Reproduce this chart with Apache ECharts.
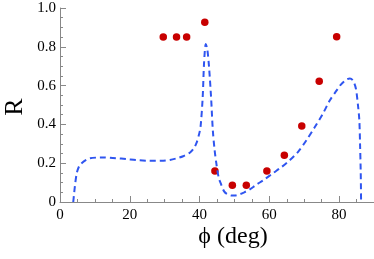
<!DOCTYPE html>
<html>
<head>
<meta charset="utf-8">
<script src="https://cdn.jsdelivr.net/npm/echarts@6/dist/echarts.min.js"></script>
<style>html,body{margin:0;padding:0;background:#fff}#c{width:374px;height:259px}</style>
</head>
<body>
<div id="c"></div>
<script>
// Measured points (red dots)
const dotPhi = [29.6, 33.4, 36.3, 41.5, 44.4, 49.4, 53.4, 59.3, 64.3, 69.3, 74.3, 79.3];
const dotR   = [0.851, 0.851, 0.851, 0.926, 0.160, 0.086, 0.086, 0.160, 0.241, 0.392, 0.622, 0.852];
// Theory curve (blue dashed)
const curvePhi = [3.8, 4.2, 4.8, 5.5, 6.2, 7.5, 8.6, 10.5, 12.4, 16, 19.1, 22, 24.8, 27.5, 29.6, 31.5, 33.4, 35.3, 37.2, 38.3, 39.1, 39.8, 40.3, 40.9, 41.3, 41.8, 42.2, 42.7, 43.3, 43.8, 44.3, 44.8, 45.5, 46.2, 47.0, 47.8, 49.0, 50.0, 51.5, 52.8, 54.5, 56.2, 58.5, 61, 63.5, 65.9, 68.3, 70.7, 73, 75.4, 77.4, 79.3, 80.5, 82, 83.1, 84.0, 84.8, 85.4, 85.8, 86.0, 86.2, 86.3];
const curveR   = [0.0, 0.07, 0.148, 0.185, 0.2, 0.217, 0.225, 0.229, 0.23, 0.226, 0.221, 0.216, 0.213, 0.212, 0.213, 0.217, 0.225, 0.236, 0.254, 0.275, 0.303, 0.345, 0.39, 0.54, 0.72, 0.814, 0.79, 0.70, 0.54, 0.37, 0.27, 0.2, 0.125, 0.09, 0.056, 0.042, 0.034, 0.033, 0.04, 0.05, 0.066, 0.088, 0.115, 0.148, 0.18, 0.216, 0.26, 0.32, 0.385, 0.457, 0.526, 0.575, 0.605, 0.63, 0.637, 0.625, 0.585, 0.5, 0.42, 0.3, 0.15, 0.0];
const xTicks = [0, 20, 40, 60, 80];
const yTicks = [0, 0.2, 0.4, 0.6, 0.8, 1.0];

const serif = '"Liberation Serif", "DejaVu Serif", serif';
const axisGray = '#888';
const chart = echarts.init(document.getElementById('c'), null, {renderer: 'canvas'});
chart.setOption({
  animation: false,
  grid: {left: 60, right: 0, top: 8, bottom: 57},
  xAxis: [{
    type: 'value', min: 0, max: 90, interval: 20,
    axisLine: {show: true, lineStyle: {color: axisGray, width: 1}},
    axisTick: {show: true, inside: true, length: 6, lineStyle: {color: axisGray}},
    splitLine: {show: false},
    axisLabel: {
      color: '#000', fontFamily: serif, fontSize: 15, margin: 6, showMaxLabel: false,
      formatter: v => xTicks.includes(v) ? String(v) : ''
    }
  }, {
    type: 'value', min: 0, max: 90, interval: 5, position: 'bottom',
    axisLine: {show: false},
    axisTick: {show: true, inside: true, length: 3, lineStyle: {color: axisGray}},
    splitLine: {show: false},
    axisLabel: {show: false}
  }],
  yAxis: {
    type: 'value', min: 0, max: 1, interval: 0.2,
    axisLine: {show: true, lineStyle: {color: axisGray, width: 1}},
    axisTick: {show: true, inside: true, length: 6, lineStyle: {color: axisGray}},
    minorTick: {show: true, splitNumber: 4, length: 3, lineStyle: {color: axisGray}},
    splitLine: {show: false},
    axisLabel: {
      color: '#000', fontFamily: serif, fontSize: 15, margin: 4,
      formatter: v => {
        const t = yTicks.find(k => Math.abs(k - v) < 1e-9);
        if (t === undefined) return '';
        return t === 0 ? '0' : t.toFixed(1);
      }
    }
  },
  graphic: [
    {type: 'text', x: 15, y: 107, rotation: Math.PI / 2,
     style: {text: 'R', font: '26px ' + serif, fill: '#000', align: 'center', verticalAlign: 'middle'}},
    {type: 'text', x: 233, y: 237,
     style: {text: 'ϕ (deg)', font: '24px ' + serif, fill: '#000', align: 'center', verticalAlign: 'middle'}}
  ],
  series: [{
    type: 'line', xAxisIndex: 0,
    data: curvePhi.map((x, i) => [x, curveR[i]]),
    showSymbol: false, smooth: 0.3, clip: true,
    lineStyle: {color: '#2f55f0', width: 2, type: [6, 4]}
  }, {
    type: 'scatter', xAxisIndex: 0,
    data: dotPhi.map((x, i) => [x, dotR[i]]),
    symbolSize: 7.5,
    itemStyle: {color: '#c80000', opacity: 1}
  }]
});
</script>
</body>
</html>
